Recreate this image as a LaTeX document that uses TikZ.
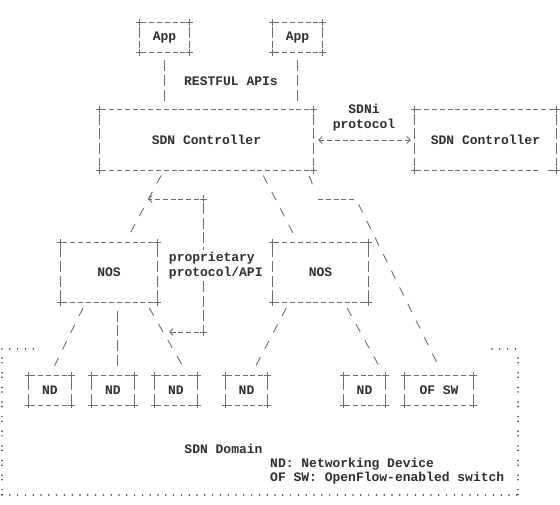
\documentclass[tikz,border=0pt]{standalone}
\usepackage{fontspec}
\setmonofont{Liberation Mono}
\usetikzlibrary{arrows.meta,positioning,calc}
\definecolor{inkgray}{HTML}{2E2E2E}
\definecolor{linegray}{HTML}{6E6E6E}

\begin{document}
\begin{tikzpicture}[x=1pt, y=-1pt,
    every node/.style={font=\ttfamily\bfseries\fontsize{13}{14.65}\selectfont, text=inkgray},
    box/.style={minimum width=#1, inner sep=0pt},
    short/.style={minimum height=29.5pt},
    tall/.style={minimum height=60pt},
    hline/.style={draw=linegray, line width=0.9pt, dash pattern=on 5pt off 2.8pt, dash phase=6.2pt},
    vline/.style={draw=linegray, line width=0.8pt, dash pattern=on 11pt off 3.65pt},
    slash/.style={draw=linegray, line width=0.9pt, dash pattern=on 9pt off 9.5pt, shorten <=6pt, shorten >=6pt},
    plus/.style={draw=linegray, line width=0.8pt},
    dotrow/.style={draw=inkgray, line width=1.7pt, line cap=round, dash pattern=on 0pt off 7.8pt},
    dotcol/.style={draw=inkgray, line width=1.7pt, line cap=round, dash pattern=on 0pt off 4.6pt on 0pt off 10.05pt, dash phase=-9pt},
    tip/.style={-{Straight Barb[length=3.5pt, width=7pt]}}
  ]
  \useasboundingbox (0,0) rectangle (560,505);

  % boxes
  \node[box=49pt, short] (app1) at (164.5,37.5) {App};
  \node[box=49pt, short] (app2) at (297.5,37.5) {App};
  \node[box=213pt, tall] (ctl) at (206.5,140) {SDN Controller};
  \node[box=141pt, tall] (ctl2) at (485.5,140) {SDN Controller};
  \node[box=96pt, tall] (nos1) at (109,272.5) {NOS};
  \node[box=95pt, tall] (nos2) at (320.5,272.5) {NOS};
  \node[box=42pt, short] (nd1) at (50,390) {ND};
  \node[box=42pt, short] (nd2) at (113,390) {ND};
  \node[box=42pt, short] (nd3) at (176,390) {ND};
  \node[box=42pt, short] (nd4) at (246.5,390) {ND};
  \node[box=42pt, short] (nd5) at (364.5,390) {ND};
  \node[box=68pt, short] (ofsw) at (439,390) {OF SW};

  \foreach \b in {app1,app2,ctl,nos1,nos2,nd1,nd2,nd3,nd4,nd5,ofsw} {
    \draw[hline] (\b.north west) -- (\b.north east);
    \draw[hline] (\b.south west) -- (\b.south east);
  }
  \foreach \b in {app1,app2,ctl,ctl2,nos1,nos2,nd1,nd2,nd3,nd4,nd5,ofsw} {
    \draw[vline, shorten <=4pt, shorten >=4pt] (\b.north west) -- (\b.south west);
    \draw[vline, shorten <=4pt, shorten >=4pt] (\b.north east) -- (\b.south east);
    \foreach \c in {north west,north east,south west,south east}
      \draw[plus] (\b.\c) +(-3.5,0) -- +(3.5,0) +(0,-3.5) -- +(0,3.5);
  }
  % second controller, bottom edge with its gap
  \draw[hline] (ctl2.north west) -- (ctl2.north east);
  \draw[hline] (ctl2.south west) -- ([xshift=-18pt]ctl2.south east);
  \draw[hline, dash phase=0pt] ([xshift=-8pt]ctl2.south east) -- (ctl2.south east);

  % labels
  \node (rest) at (231,81) {RESTFUL APIs};
  \node[align=center, inner sep=0pt] (sdni) at (364,117.5) {SDNi\\protocol};
  \node[align=left, inner sep=2pt] (prop) at (215.8,265.5) {proprietary\\protocol/API};
  \node (domain) at (223.5,449) {SDN Domain};
  \node[align=left, anchor=west, inner sep=0pt] (legend) at (270,471) {ND: Networking Device\\OF SW: OpenFlow-enabled switch};

  % apps to controller
  \draw[vline, shorten <=8pt, shorten >=8pt] (app1.south) -- (app1.south |- ctl.north);
  \draw[vline, shorten <=8pt, shorten >=8pt] (app2.south) -- (app2.south |- ctl.north);

  % SDNi between controllers
  \draw[hline, dash phase=0pt, {Straight Barb[length=3.5pt, width=7pt]}-{Straight Barb[length=3.5pt, width=7pt]},
    shorten <=5pt, shorten >=4pt] (ctl.east) -- (ctl2.west);

  % controller down to NOS and switch
  \draw[slash] ([xshift=-42.5pt]ctl.south) -- ([xshift=-32pt]nos1.north east);
  \draw[slash] ([xshift=54pt]ctl.south) -- ([xshift=25pt]nos2.north west);
  \coordinate (bendA) at (318,199);
  \coordinate (bendB) at (356,199);
  \draw[slash, shorten >=8pt] ([xshift=100.5pt]ctl.south) -- (bendA);
  \draw[hline, dash phase=0pt] (bendA) -- (bendB);
  \draw[slash] (bendB) -- ([xshift=4pt]ofsw.north);

  % NOS down to devices
  \draw[slash] ([xshift=-23.5pt]nos1.south) -- (nd1.north);
  \draw[vline, shorten <=8pt, shorten >=8pt] ([xshift=8pt]nos1.south) -- ([xshift=4pt]nd2.north);
  \draw[slash] ([xshift=-11pt]nos1.south east) -- ([xshift=12pt]nd3.north);
  \draw[slash] ([xshift=-31.5pt]nos2.south) -- ([xshift=4.5pt]nd4.north);
  \draw[slash] ([xshift=-24pt]nos2.south east) -- ([xshift=19.5pt]nd5.north);

  % proprietary protocol bracket
  \coordinate (pa) at (203,199);
  \coordinate (pb) at (203,332);
  \coordinate (pa-tip) at (148,199);
  \coordinate (pb-tip) at (169,332);
  \draw[hline, dash phase=0pt, tip, shorten <=4pt] (pa) -- (pa-tip);
  \draw[hline, dash phase=0pt, tip, shorten <=4pt] (pb) -- (pb-tip);
  \draw[vline, shorten <=4pt] (pa) -- (prop.north -| pa);
  \draw[vline, shorten >=4pt] (prop.south -| pa) -- (pb);
  \foreach \c in {pa,pb}
    \draw[plus] (\c) +(-3.5,0) -- +(3.5,0) +(0,-3.5) -- +(0,3.5);

  % SDN domain border
  \coordinate (dom-nw) at (2,349);
  \coordinate (dom-ne) at (518,349);
  \coordinate (dom-sw) at (2,495);
  \coordinate (dom-se) at (518,495);
  \draw[dotrow] (dom-nw) -- ++(33,0);
  \draw[dotrow] ([xshift=-26pt]dom-ne) -- (dom-ne);
  \draw[dotrow] (dom-sw) -- (dom-se);
  \draw[dotcol] (dom-nw) -- (dom-sw);
  \draw[dotcol] (dom-ne) -- (dom-se);
\end{tikzpicture}
\end{document}
